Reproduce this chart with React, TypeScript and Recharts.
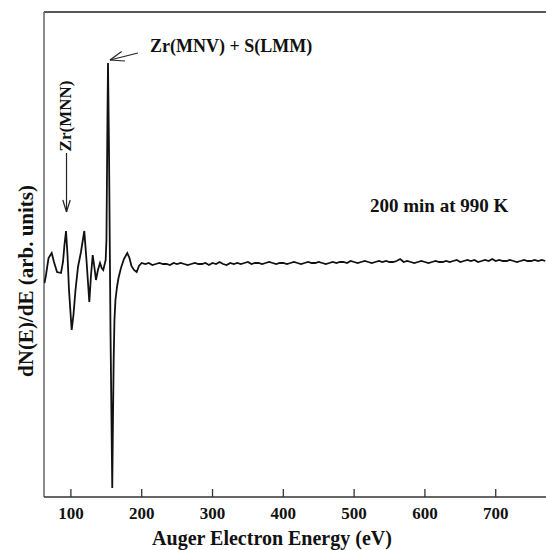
import React from 'react';
import { LineChart, Line, XAxis, YAxis, ReferenceLine } from 'recharts';

// Auger spectrum, energy (eV) vs dN(E)/dE (arb. units, 0 = flat baseline)
const energy = [
  62.7, 64.8, 68.4, 72.9, 76.1, 80.4, 86.0, 88.8, 90.9, 93.1, 95.2, 97.3, 101.1, 103.6, 106.5,
  110.0, 114.2, 118.9, 122.0, 126.0, 128.4, 130.8, 133.3, 135.4, 138.2, 141.1, 143.5, 145.7,
  149.1, 150.2, 151.6, 152.4, 153.8, 155.9, 158.4, 159.4, 160.4, 161.5, 162.9, 165.1, 167.2,
  170.7, 174.9, 179.6, 182.7, 185.5, 189.1, 192.9, 196.1,
  200, 205, 210, 215, 220, 225, 230, 235, 240, 245, 250, 255, 260, 265, 270, 275, 280, 285,
  290, 295, 300, 305, 310, 315, 320, 325, 330, 335, 340, 345, 350, 355, 360, 365, 370, 375,
  380, 385, 390, 395, 400, 405, 410, 415, 420, 425, 430, 435, 440, 445, 450, 455, 460, 465,
  470, 475, 480, 485, 490, 495, 500, 505, 510, 515, 520, 525, 530, 535, 540, 545, 550, 555,
  560, 565, 570, 575, 580, 585, 590, 595, 600, 605, 610, 615, 620, 625, 630, 635, 640, 645,
  650, 655, 660, 665, 670, 675, 680, 685, 690, 695, 700, 705, 710, 715, 720, 725, 730, 735,
  740, 745, 750, 755, 760, 765, 770,
];

const signal = [
  -21, -13, 4, 9, 0, -10, -11, 0, 17, 31, 7, -28, -68, -53, -28,
  -5, 10, 31, 2, -40, -13, 7, -6, -18, -8, -1, -6, -8,
  2, 22, 142, 199, 112, -68, -226, -158, -98, -58, -38, -25, -16,
  -6, 3, 9, 4, -4, -8, -10, -4,
  -1, -2, -1, -3, -2, -1, -2, -2, -3, -1, -2, -1, -2, -3, -2, -1, -2, -2,
  -1, -3, -1, -2, 0, -2, -3, -1, -2, -1, -2, -1, 0, -2, -1, -1, -2, -1,
  0, -1, -2, -1, -1, -2, -1, 0, -1, -2, -1, 0, -1, -1, 0, -1, -2, -1,
  0, -1, 0, 0, -1, 1, 0, -1, 0, 1, 0, -1, 0, 1, 0, 1, 0, 0,
  1, 3, 0, 1, 0, -1, 0, 1, 0, -1, 0, 1, 0, 0, 1, 0, 1, 2,
  0, 1, 2, 1, 2, 0, 1, 2, 1, 3, 1, 2, 1, 1, 2, 1, 0, 1,
  2, 1, 1, 2, 1, 2, 1,
];

const xTicks = [100, 200, 300, 400, 500, 600, 700];

const data = energy.map((e, i) => ({ energy: e, value: signal[i] }));

const FONT = '"Liberation Serif", "Times New Roman", serif';

const BottomTick = (props: any) => {
  const { x, y, payload } = props;
  return (
    <g>
      <line x1={x} x2={x} y1={y} y2={y - 8} stroke="#333" strokeWidth={1.3} />
      <text x={x} y={y + 22} textAnchor="middle" fontFamily={FONT} fontWeight="bold" fontSize={17} fill="#111">
        {payload.value}
      </text>
    </g>
  );
};

export default function App() {
  const arrow = { stroke: '#222', strokeWidth: 1.2, ifOverflow: 'visible' as const };
  return (
    <div style={{ position: 'absolute', left: 0, top: 0, width: 546, height: 550, background: '#fff' }}>
      <LineChart width={546} height={550} data={data} margin={{ top: 12, right: 0, bottom: 23, left: 44 }}>
        <XAxis
          type="number"
          dataKey="energy"
          domain={[62, 771]}
          ticks={xTicks}
          allowDataOverflow
          tickSize={0}
          tickMargin={0}
          tickLine={false}
          tick={<BottomTick />}
          axisLine={{ stroke: '#333', strokeWidth: 1.5 }}
          height={30}
        />
        <YAxis type="number" domain={[-235, 250]} allowDataOverflow hide />
        <ReferenceLine y={250} stroke="#222" strokeWidth={1.5} />
        <ReferenceLine x={62} stroke="#666" strokeWidth={1.5} />
        {/* Zr(MNV) + S(LMM) arrow */}
        <ReferenceLine segment={[{ x: 194.7, y: 209 }, { x: 155.2, y: 202 }]} {...arrow} />
        <ReferenceLine segment={[{ x: 171.7, y: 210.5 }, { x: 155.2, y: 202 }]} {...arrow} />
        <ReferenceLine segment={[{ x: 176.4, y: 201 }, { x: 155.2, y: 202 }]} {...arrow} />
        {/* Zr(MNN) arrow */}
        <ReferenceLine segment={[{ x: 93.8, y: 109 }, { x: 93.8, y: 50 }]} {...arrow} />
        <ReferenceLine segment={[{ x: 88.6, y: 62 }, { x: 93.8, y: 50 }]} {...arrow} />
        <ReferenceLine segment={[{ x: 99.0, y: 62 }, { x: 93.8, y: 50 }]} {...arrow} />
        <Line
          type="linear"
          dataKey="value"
          stroke="#111"
          strokeWidth={1.8}
          dot={false}
          isAnimationActive={false}
        />
      </LineChart>
      <svg
        width={546}
        height={550}
        style={{ position: 'absolute', left: 0, top: 0, pointerEvents: 'none' }}
        fontFamily={FONT}
        fontWeight="bold"
        fill="#111"
      >
        <text x={150} y={52} fontSize={18}>Zr(MNV) + S(LMM)</text>
        <text x={370} y={212} fontSize={19}>200 min at 990 K</text>
        <text transform="translate(71,116) rotate(-90)" textAnchor="middle" fontSize={17}>Zr(MNN)</text>
        <text transform="translate(33,281) rotate(-90)" textAnchor="middle" fontSize={21}>dN(E)/dE (arb. units)</text>
        <text x={272} y={545} textAnchor="middle" fontSize={20}>Auger Electron Energy (eV)</text>
      </svg>
    </div>
  );
}
